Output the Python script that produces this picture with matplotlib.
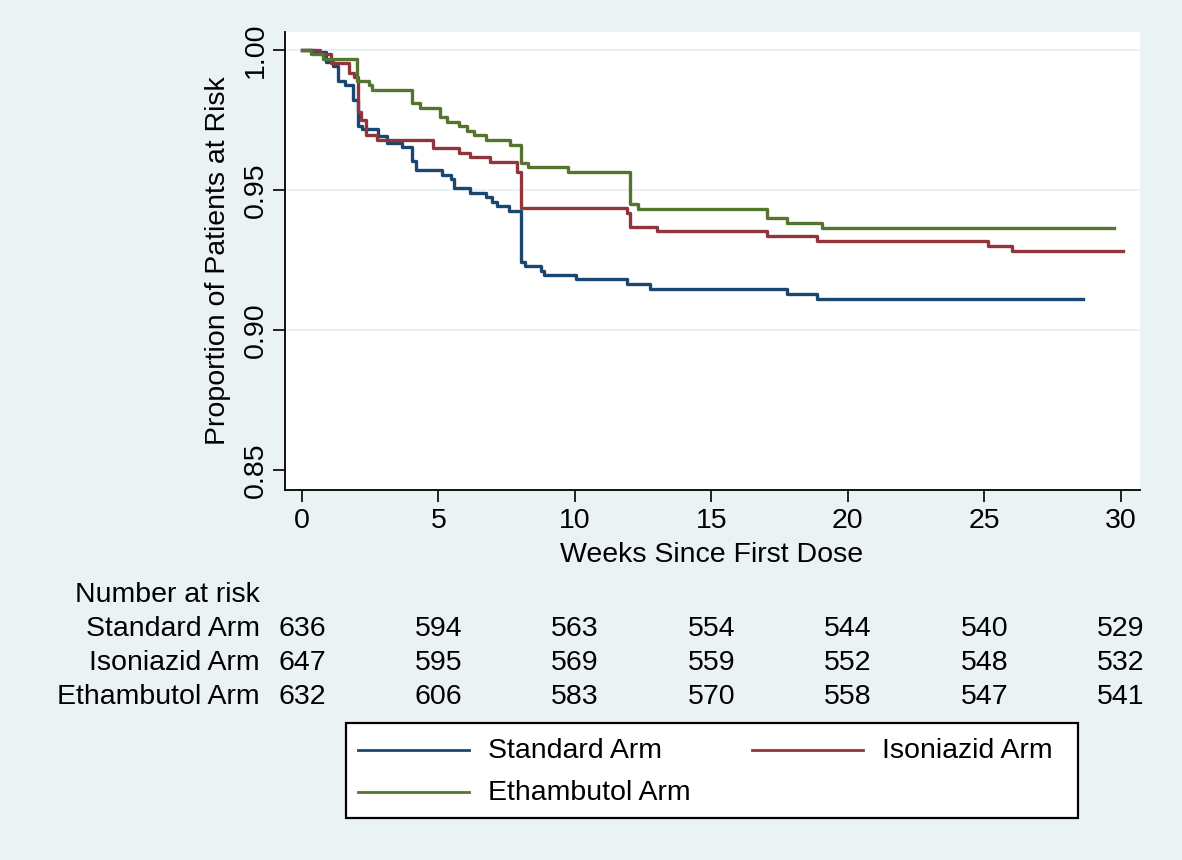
import matplotlib
matplotlib.use("Agg")
import matplotlib.pyplot as plt
from matplotlib.lines import Line2D
from matplotlib.patches import Rectangle
from matplotlib.transforms import blended_transform_factory

plt.rcParams['font.family'] = ['Liberation Sans', 'DejaVu Sans']

BG = "#EAF2F3"
COL_STD = "#1A476F"
COL_INH = "#90353B"
COL_EMB = "#55752F"

# Kaplan-Meier step data (weeks, proportion)
std_weeks = [0, 0.4, 0.88, 1.14, 1.32, 1.58, 1.87, 2.05, 2.2, 2.78, 3.11, 3.66, 4.03, 4.18,
             5.13, 5.46, 5.57, 6.15, 6.74, 6.96, 7.14, 7.58, 8.02, 8.17, 8.75, 8.86, 10.04,
             11.9, 12.75, 17.77, 18.87, 28.6]
std_surv = [1.0, 0.9993, 0.9957, 0.9943, 0.989, 0.9875, 0.982, 0.973, 0.9718, 0.9693, 0.9668,
            0.9654, 0.9604, 0.957, 0.9554, 0.954, 0.9507, 0.9489, 0.9475, 0.9457, 0.9443,
            0.9425, 0.9243, 0.9229, 0.9211, 0.9196, 0.9182, 0.9164, 0.9146, 0.9129, 0.9111,
            0.9111]

inh_weeks = [0, 0.66, 1.06, 1.72, 1.9, 2.05, 2.18, 2.34, 2.75, 4.8, 5.75, 6.15, 6.88, 7.87,
             8.02, 11.9, 12.01, 13.0, 17.03, 18.86, 25.13, 26.0, 30.07]
inh_surv = [1.0, 0.9986, 0.9954, 0.9918, 0.9904, 0.9779, 0.975, 0.9696, 0.9679, 0.965, 0.9632,
            0.9618, 0.96, 0.9564, 0.9436, 0.9418, 0.9368, 0.9354, 0.9336, 0.9318, 0.93, 0.9282,
            0.9282]

emb_weeks = [0, 0.33, 0.77, 2.01, 2.45, 2.56, 4.03, 4.32, 5.05, 5.31, 5.75, 6.04, 6.30, 6.74,
             7.62, 8.02, 8.28, 9.74, 12.01, 12.31, 17.03, 17.77, 19.05, 29.74]
emb_surv = [1.0, 0.9986, 0.9968, 0.9889, 0.9875, 0.9857, 0.9811, 0.9793, 0.9761, 0.9743,
            0.9729, 0.9711, 0.9696, 0.9679, 0.9661, 0.9596, 0.9582, 0.9564, 0.945, 0.9432,
            0.94, 0.9382, 0.9364, 0.9364]

# number at risk table
risk_weeks = [0, 5, 10, 15, 20, 25, 30]
risk_labels = ["Standard Arm", "Isoniazid Arm", "Ethambutol Arm"]
risk_std = [636, 594, 563, 554, 544, 540, 529]
risk_inh = [647, 595, 569, 559, 552, 548, 532]
risk_emb = [632, 606, 583, 570, 558, 547, 541]

FS = 20.5
W, H = 1182, 860


def fx(px):
    return px / W


def fy(py):
    return 1 - py / H


fig = plt.figure(figsize=(W / 100, H / 100), dpi=100, facecolor=BG)
ax = fig.add_axes([fx(285), fy(490), 855 / W, 458 / H])
ax.set_facecolor("white")

ax.set_xlim(-0.62, 30.7)
ax.set_ylim(0.8429, 1.0064)
ax.set_yticks([0.85, 0.90, 0.95, 1.00])
ax.set_yticklabels(["0.85", "0.90", "0.95", "1.00"], rotation=90, va="center")
ax.set_xticks(risk_weeks)
for yv in [0.90, 0.95, 1.00]:
    ax.axhline(yv, color=BG, lw=1.6, zorder=0)

ax.step(std_weeks, std_surv, where="post", color=COL_STD, lw=2.4)
ax.step(inh_weeks, inh_surv, where="post", color=COL_INH, lw=2.4)
ax.step(emb_weeks, emb_surv, where="post", color=COL_EMB, lw=2.4)

for s in ["top", "right"]:
    ax.spines[s].set_visible(False)
for s in ["left", "bottom"]:
    ax.spines[s].set_color("black")
    ax.spines[s].set_linewidth(1.3)
ax.tick_params(axis="both", direction="out", length=8.5, width=1.2, labelsize=FS, colors="black")
ax.tick_params(axis="x", pad=4.5)
ax.tick_params(axis="y", pad=3.3)

fig.text(fx(712), fy(555), "Weeks Since First Dose", fontsize=FS, ha="center", va="center")
fig.text(fx(218), fy(261), "Proportion of Patients at Risk", fontsize=FS, ha="center",
         va="center", rotation=90)

# number at risk
tr = blended_transform_factory(ax.transData, fig.transFigure)
fig.text(fx(260), fy(595), "Number at risk", fontsize=FS, ha="right", va="center")
rows = [risk_std, risk_inh, risk_emb]
row_y = [629, 663, 697]
for lab, vals, py in zip(risk_labels, rows, row_y):
    fig.text(fx(260), fy(py), lab, fontsize=FS, ha="right", va="center")
    for wk, v in zip(risk_weeks, vals):
        ax.text(wk, fy(py), str(v), transform=tr, fontsize=FS, ha="center", va="center",
                clip_on=False)

# legend box drawn by hand
fig.patches.append(Rectangle((fx(346), fy(818)), 732 / W, 95 / H, transform=fig.transFigure,
                             facecolor="white", edgecolor="black", lw=1.6))
legend_items = [("Standard Arm", COL_STD, 358, 750),
                ("Isoniazid Arm", COL_INH, 752, 750),
                ("Ethambutol Arm", COL_EMB, 358, 792)]
for lab, col, x0, y0 in legend_items:
    fig.lines.append(Line2D([fx(x0), fx(x0 + 111)], [fy(y0), fy(y0)], transform=fig.transFigure,
                            color=col, lw=2.0))
    fig.text(fx(x0 + 130), fy(y0 + 1), lab, fontsize=FS, ha="left", va="center")

fig.savefig("out.png", dpi=100, facecolor=BG)
